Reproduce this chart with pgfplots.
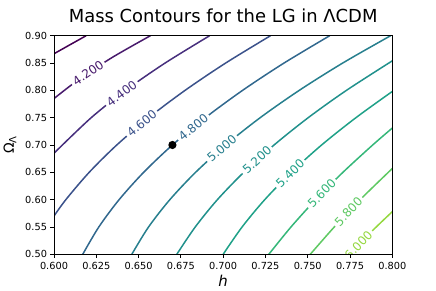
\documentclass[border=0pt]{standalone}
\usepackage{fontspec}
\setmainfont{DejaVu Sans}
\usepackage{pgfplots}
\pgfplotsset{compat=1.18}
\definecolor{c40}{HTML}{440154}
\definecolor{c42}{HTML}{481A6C}
\definecolor{c44}{HTML}{472F7D}
\definecolor{c46}{HTML}{3B528B}
\definecolor{c48}{HTML}{31688E}
\definecolor{c50}{HTML}{277F8E}
\definecolor{c52}{HTML}{21918C}
\definecolor{c54}{HTML}{1FA188}
\definecolor{c56}{HTML}{35B779}
\definecolor{c58}{HTML}{5EC962}
\definecolor{c60}{HTML}{95D840}
\tikzset{clab/.style={fill=white, inner xsep=2.5bp, inner ysep=0.5bp, font=\fontsize{12}{12}\selectfont}}
\begin{document}
\begin{tikzpicture}
\useasboundingbox (0,0) rectangle (436bp,291bp);
\begin{axis}[
  at={(54bp,36.7bp)}, anchor=south west,
  scale only axis, width=338.3bp, height=218.6bp,
  xmin=0.6, xmax=0.8, ymin=0.5, ymax=0.9,
  axis on top=true,
  xtick={0.6,0.625,0.65,0.675,0.7,0.725,0.75,0.775,0.8},
  xticklabels={0.600,0.625,0.650,0.675,0.700,0.725,0.750,0.775,0.800},
  ytick={0.5,0.55,0.6,0.65,0.7,0.75,0.8,0.85,0.9},
  yticklabels={0.50,0.55,0.60,0.65,0.70,0.75,0.80,0.85,0.90},
  tick pos=left, tick align=outside, major tick length=3.5bp,
  tick style={black, line width=0.8bp},
  axis line style={black, line width=0.8bp},
  tick label style={font=\fontsize{9.8}{10}\selectfont},
  xticklabel style={yshift=-0.5bp},
  title={Mass Contours for the LG in ΛCDM},
  title style={font=\fontsize{18}{18}\selectfont, at={(axis description cs:0.5,1)}, anchor=base, yshift=7.4bp},
  xlabel={\textit{h}},
  xlabel style={font=\fontsize{15}{15}\selectfont, at={(axis description cs:0.5,-0.122)}, anchor=center},
  ylabel={Ω{\fontsize{10}{10}\selectfont\raisebox{-0.25em}{Λ}}},
  ylabel style={font=\fontsize{14}{14}\selectfont, at={(axis description cs:-0.130,0.5)}, anchor=center},
  every axis plot/.append style={line width=1.5bp, smooth},
]
\addplot[c40] coordinates {(0.6,0.867) (0.6092,0.883) (0.619,0.9)};
\addplot[c42] coordinates {(0.6,0.785) (0.6147,0.82) (0.6343,0.86) (0.657,0.9)};
\addplot[c44] coordinates {(0.6,0.685) (0.6220,0.75) (0.6423,0.80) (0.6657,0.85) (0.6920,0.9)};
\addplot[c46] coordinates {(0.6,0.57) (0.6070,0.60) (0.6208,0.65) (0.6371,0.70) (0.6560,0.75) (0.6775,0.80) (0.7015,0.85) (0.7280,0.90)};
\addplot[c48] coordinates {(0.617,0.5) (0.6265,0.55) (0.6385,0.6) (0.6530,0.65) (0.670,0.7) (0.6895,0.75) (0.7115,0.8) (0.7360,0.85) (0.763,0.9)};
\addplot[c50] coordinates {(0.646,0.5) (0.6559,0.55) (0.6685,0.6) (0.6837,0.65) (0.7015,0.7) (0.7219,0.75) (0.7450,0.8) (0.7707,0.85) (0.7990,0.9)};
\addplot[c52] coordinates {(0.6726,0.5) (0.6835,0.55) (0.6966,0.6) (0.7122,0.65) (0.7301,0.7) (0.7503,0.75) (0.7729,0.8) (0.8,0.854)};
\addplot[c54] coordinates {(0.7,0.5) (0.7112,0.55) (0.7246,0.6) (0.7403,0.65) (0.7582,0.7) (0.7785,0.75) (0.8,0.798)};
\addplot[c56] coordinates {(0.727,0.5) (0.7401,0.55) (0.7547,0.6) (0.7708,0.65) (0.7884,0.7) (0.8,0.731)};
\addplot[c58] coordinates {(0.7515,0.5) (0.7657,0.55) (0.7810,0.6) (0.8,0.657)};
\addplot[c60] coordinates {(0.775,0.5) (0.7872,0.54) (0.8,0.578)};
\addplot[only marks, mark=*, mark size=3.3bp, black] coordinates {(0.67,0.70)};
\node[clab, text=c42, rotate=34.3] at (axis cs:0.6201,0.8317) {4.200};
\node[clab, text=c44, rotate=36.9] at (axis cs:0.6400,0.7946) {4.400};
\node[clab, text=c46, rotate=39.5] at (axis cs:0.6519,0.7397) {4.600};
\node[clab, text=c48, rotate=39.3] at (axis cs:0.6824,0.7324) {4.800};
\node[clab, text=c50, rotate=40.7] at (axis cs:0.6992,0.6940) {5.000};
\node[clab, text=c52, rotate=42.3] at (axis cs:0.7200,0.6726) {5.200};
\node[clab, text=c54, rotate=44.0] at (axis cs:0.7396,0.6480) {5.400};
\node[clab, text=c56, rotate=45.8] at (axis cs:0.7583,0.6116) {5.600};
\node[clab, text=c58, rotate=46.3] at (axis cs:0.7741,0.5780) {5.800};
\node[clab, text=c60, rotate=46.8] at (axis cs:0.7800,0.5170) {6.000};
\end{axis}
\end{tikzpicture}
\end{document}
